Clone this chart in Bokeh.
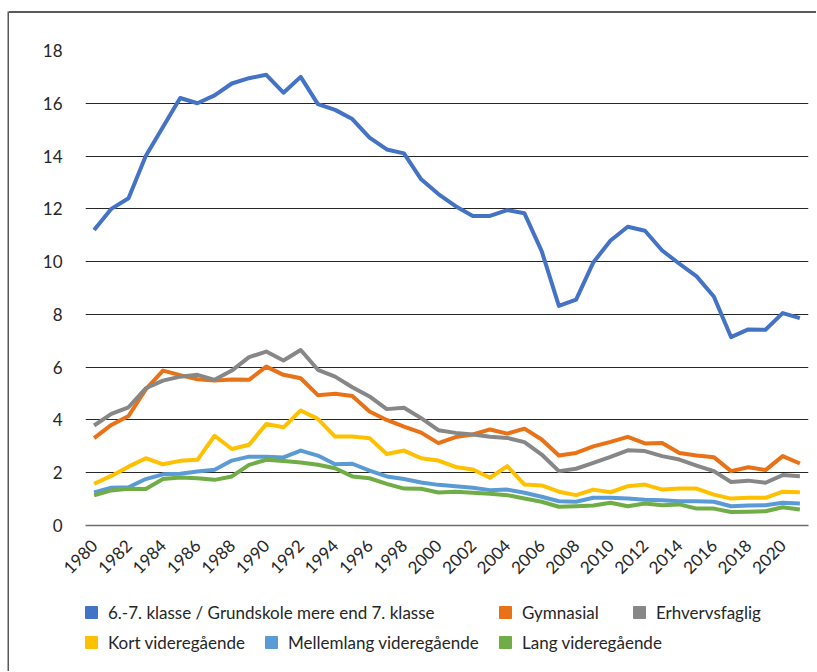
import math
from bokeh.plotting import figure
from bokeh.layouts import column, row, Spacer
from bokeh.models import (Range1d, FixedTicker, Legend, LegendItem, ColumnDataSource, Div)
from bokeh.embed import file_html
from bokeh.resources import INLINE

years = list(range(1980, 2022))
tick_years = list(range(1980, 2021, 2))
y_ticks = [0, 2, 4, 6, 8, 10, 12, 14, 16, 18]

grundskole = [11.2, 12.0, 12.4, 14.0, 15.1, 16.2, 16.0, 16.3, 16.75, 16.95,
              17.08, 16.4, 17.0, 15.97, 15.75, 15.4, 14.7, 14.25, 14.1, 13.12,
              12.56, 12.1, 11.73, 11.73, 11.95, 11.83, 10.4, 8.32, 8.56, 9.97,
              10.8, 11.32, 11.17, 10.42, 9.92, 9.44, 8.68, 7.14, 7.43, 7.42,
              8.05, 7.86]
gymnasial = [3.31, 3.81, 4.15, 5.16, 5.87, 5.7, 5.54, 5.49, 5.53, 5.52,
             6.02, 5.71, 5.58, 4.94, 4.99, 4.91, 4.32, 4.0, 3.75, 3.52,
             3.12, 3.35, 3.45, 3.64, 3.48, 3.67, 3.26, 2.65, 2.75, 3.0,
             3.17, 3.36, 3.11, 3.13, 2.75, 2.65, 2.59, 2.06, 2.21, 2.1,
             2.63, 2.35]
erhverv = [3.79, 4.23, 4.48, 5.2, 5.49, 5.64, 5.71, 5.52, 5.87, 6.38,
           6.59, 6.25, 6.65, 5.9, 5.64, 5.24, 4.89, 4.41, 4.46, 4.07,
           3.61, 3.51, 3.45, 3.36, 3.32, 3.16, 2.69, 2.06, 2.15, 2.37,
           2.6, 2.85, 2.82, 2.63, 2.5, 2.27, 2.06, 1.65, 1.7, 1.62,
           1.91, 1.87]
kort = [1.58, 1.88, 2.23, 2.55, 2.32, 2.45, 2.49, 3.4, 2.9, 3.06,
        3.85, 3.72, 4.36, 4.04, 3.37, 3.37, 3.31, 2.71, 2.84, 2.55,
        2.46, 2.22, 2.12, 1.81, 2.25, 1.55, 1.52, 1.28, 1.15, 1.36,
        1.26, 1.49, 1.55, 1.36, 1.4, 1.4, 1.17, 1.02, 1.05, 1.05,
        1.28, 1.26]
mellemlang = [1.25, 1.43, 1.45, 1.76, 1.94, 1.96, 2.05, 2.11, 2.46, 2.61,
              2.61, 2.58, 2.84, 2.65, 2.32, 2.34, 2.08, 1.86, 1.76, 1.63,
              1.54, 1.49, 1.43, 1.34, 1.36, 1.24, 1.09, 0.92, 0.9, 1.05,
              1.05, 1.02, 0.98, 0.96, 0.92, 0.92, 0.9, 0.73, 0.76, 0.77,
              0.86, 0.83]
lang = [1.14, 1.33, 1.39, 1.38, 1.76, 1.82, 1.79, 1.73, 1.86, 2.3,
        2.49, 2.44, 2.39, 2.3, 2.17, 1.86, 1.79, 1.58, 1.4, 1.39,
        1.25, 1.28, 1.24, 1.2, 1.15, 1.02, 0.9, 0.71, 0.73, 0.76,
        0.86, 0.73, 0.83, 0.77, 0.8, 0.64, 0.64, 0.51, 0.52, 0.54,
        0.69, 0.61]

labels = ["6.-7. klasse / Grundskole mere end 7. klasse", "Gymnasial", "Erhvervsfaglig",
          "Kort videregående", "Mellemlang videregående", "Lang videregående"]
series = [grundskole, gymnasial, erhverv, kort, mellemlang, lang]
colors = ["#4472C4", "#E97116", "#878787", "#FFC000", "#5B9BD5", "#70AD47"]

FONT = "Lato"
BORDER = "#595959"
W = 807

p = figure(width=W, height=572, output_backend="svg", toolbar_location=None,
           x_range=Range1d(1979.5, 2021.5), y_range=Range1d(0, 18),
           min_border_left=76, min_border_right=8, min_border_top=37,
           min_border_bottom=60)
p.frame_align = False
p.outline_line_color = None
p.border_fill_color = "white"

for s, c in zip(series, colors):
    src = ColumnDataSource(dict(x=years, y=s))
    p.line("x", "y", source=src, line_color=c, line_width=4, line_join="round")

p.xaxis.ticker = FixedTicker(ticks=tick_years)
p.xaxis.major_label_orientation = math.pi / 4
p.xaxis.major_tick_line_color = None
p.xaxis.minor_tick_line_color = None
p.xaxis.axis_line_color = "#6e6e6e"
p.xaxis.axis_line_width = 1.5
p.xaxis.major_label_text_font = FONT
p.xaxis.major_label_text_font_size = "17px"
p.xaxis.major_label_text_color = "#262626"
p.xaxis.major_label_standoff = 11

p.yaxis.ticker = FixedTicker(ticks=y_ticks)
p.yaxis.major_tick_line_color = None
p.yaxis.minor_tick_line_color = None
p.yaxis.axis_line_color = None
p.yaxis.major_label_text_font = FONT
p.yaxis.major_label_text_font_size = "17px"
p.yaxis.major_label_text_color = "#262626"
p.yaxis.major_label_standoff = 17

p.xgrid.grid_line_color = None
p.ygrid.ticker = FixedTicker(ticks=y_ticks[1:])
p.ygrid.grid_line_color = "#262626"
p.ygrid.grid_line_width = 1

# legend strip below the chart
lf = figure(width=W, height=86, output_backend="svg", toolbar_location=None,
            x_range=Range1d(0, 1), y_range=Range1d(0, 1),
            min_border_left=0, min_border_right=0, min_border_top=0,
            min_border_bottom=0, x_axis_type=None, y_axis_type=None)
lf.frame_align = False
lf.outline_line_color = None
lf.grid.grid_line_color = None
lf.border_fill_color = "white"

dummies = [lf.scatter(x=[float("nan")], y=[float("nan")], marker="square",
                      size=12, fill_color=c, line_color=c) for c in colors]
legend_pos = [(67, 44), (481, 44), (615, 44),
              (67, 14), (247, 14), (481, 14)]
for lab, r, pos in zip(labels, dummies, legend_pos):
    lg = Legend(items=[LegendItem(label=lab, renderers=[r])], location=pos,
                glyph_width=30, glyph_height=30, label_standoff=2,
                padding=0, margin=0, border_line_color=None,
                background_fill_alpha=0, label_text_font=FONT,
                label_text_font_size="17px", label_text_color="#262626")
    lf.add_layout(lg, "center")

# frame lines of the reference's outer box (top and left edges)
vline = figure(width=2, height=660, output_backend="svg", toolbar_location=None,
               x_range=Range1d(0, 1), y_range=Range1d(0, 1),
               min_border_left=0, min_border_right=0, min_border_top=0,
               min_border_bottom=0, x_axis_type=None, y_axis_type=None)
vline.frame_align = False
vline.outline_line_color = None
vline.grid.grid_line_color = None
vline.background_fill_color = BORDER
vline.border_fill_color = BORDER

hline = Div(text="", width=W, height=2, margin=0,
            styles={"background-color": BORDER, "overflow": "hidden"})

layout = column(
    Spacer(width=10, height=11),
    row(Spacer(width=7, height=10), vline, column(hline, p, lf, spacing=0), spacing=0),
    spacing=0)

open("out.html", "w").write(file_html(layout, INLINE))
